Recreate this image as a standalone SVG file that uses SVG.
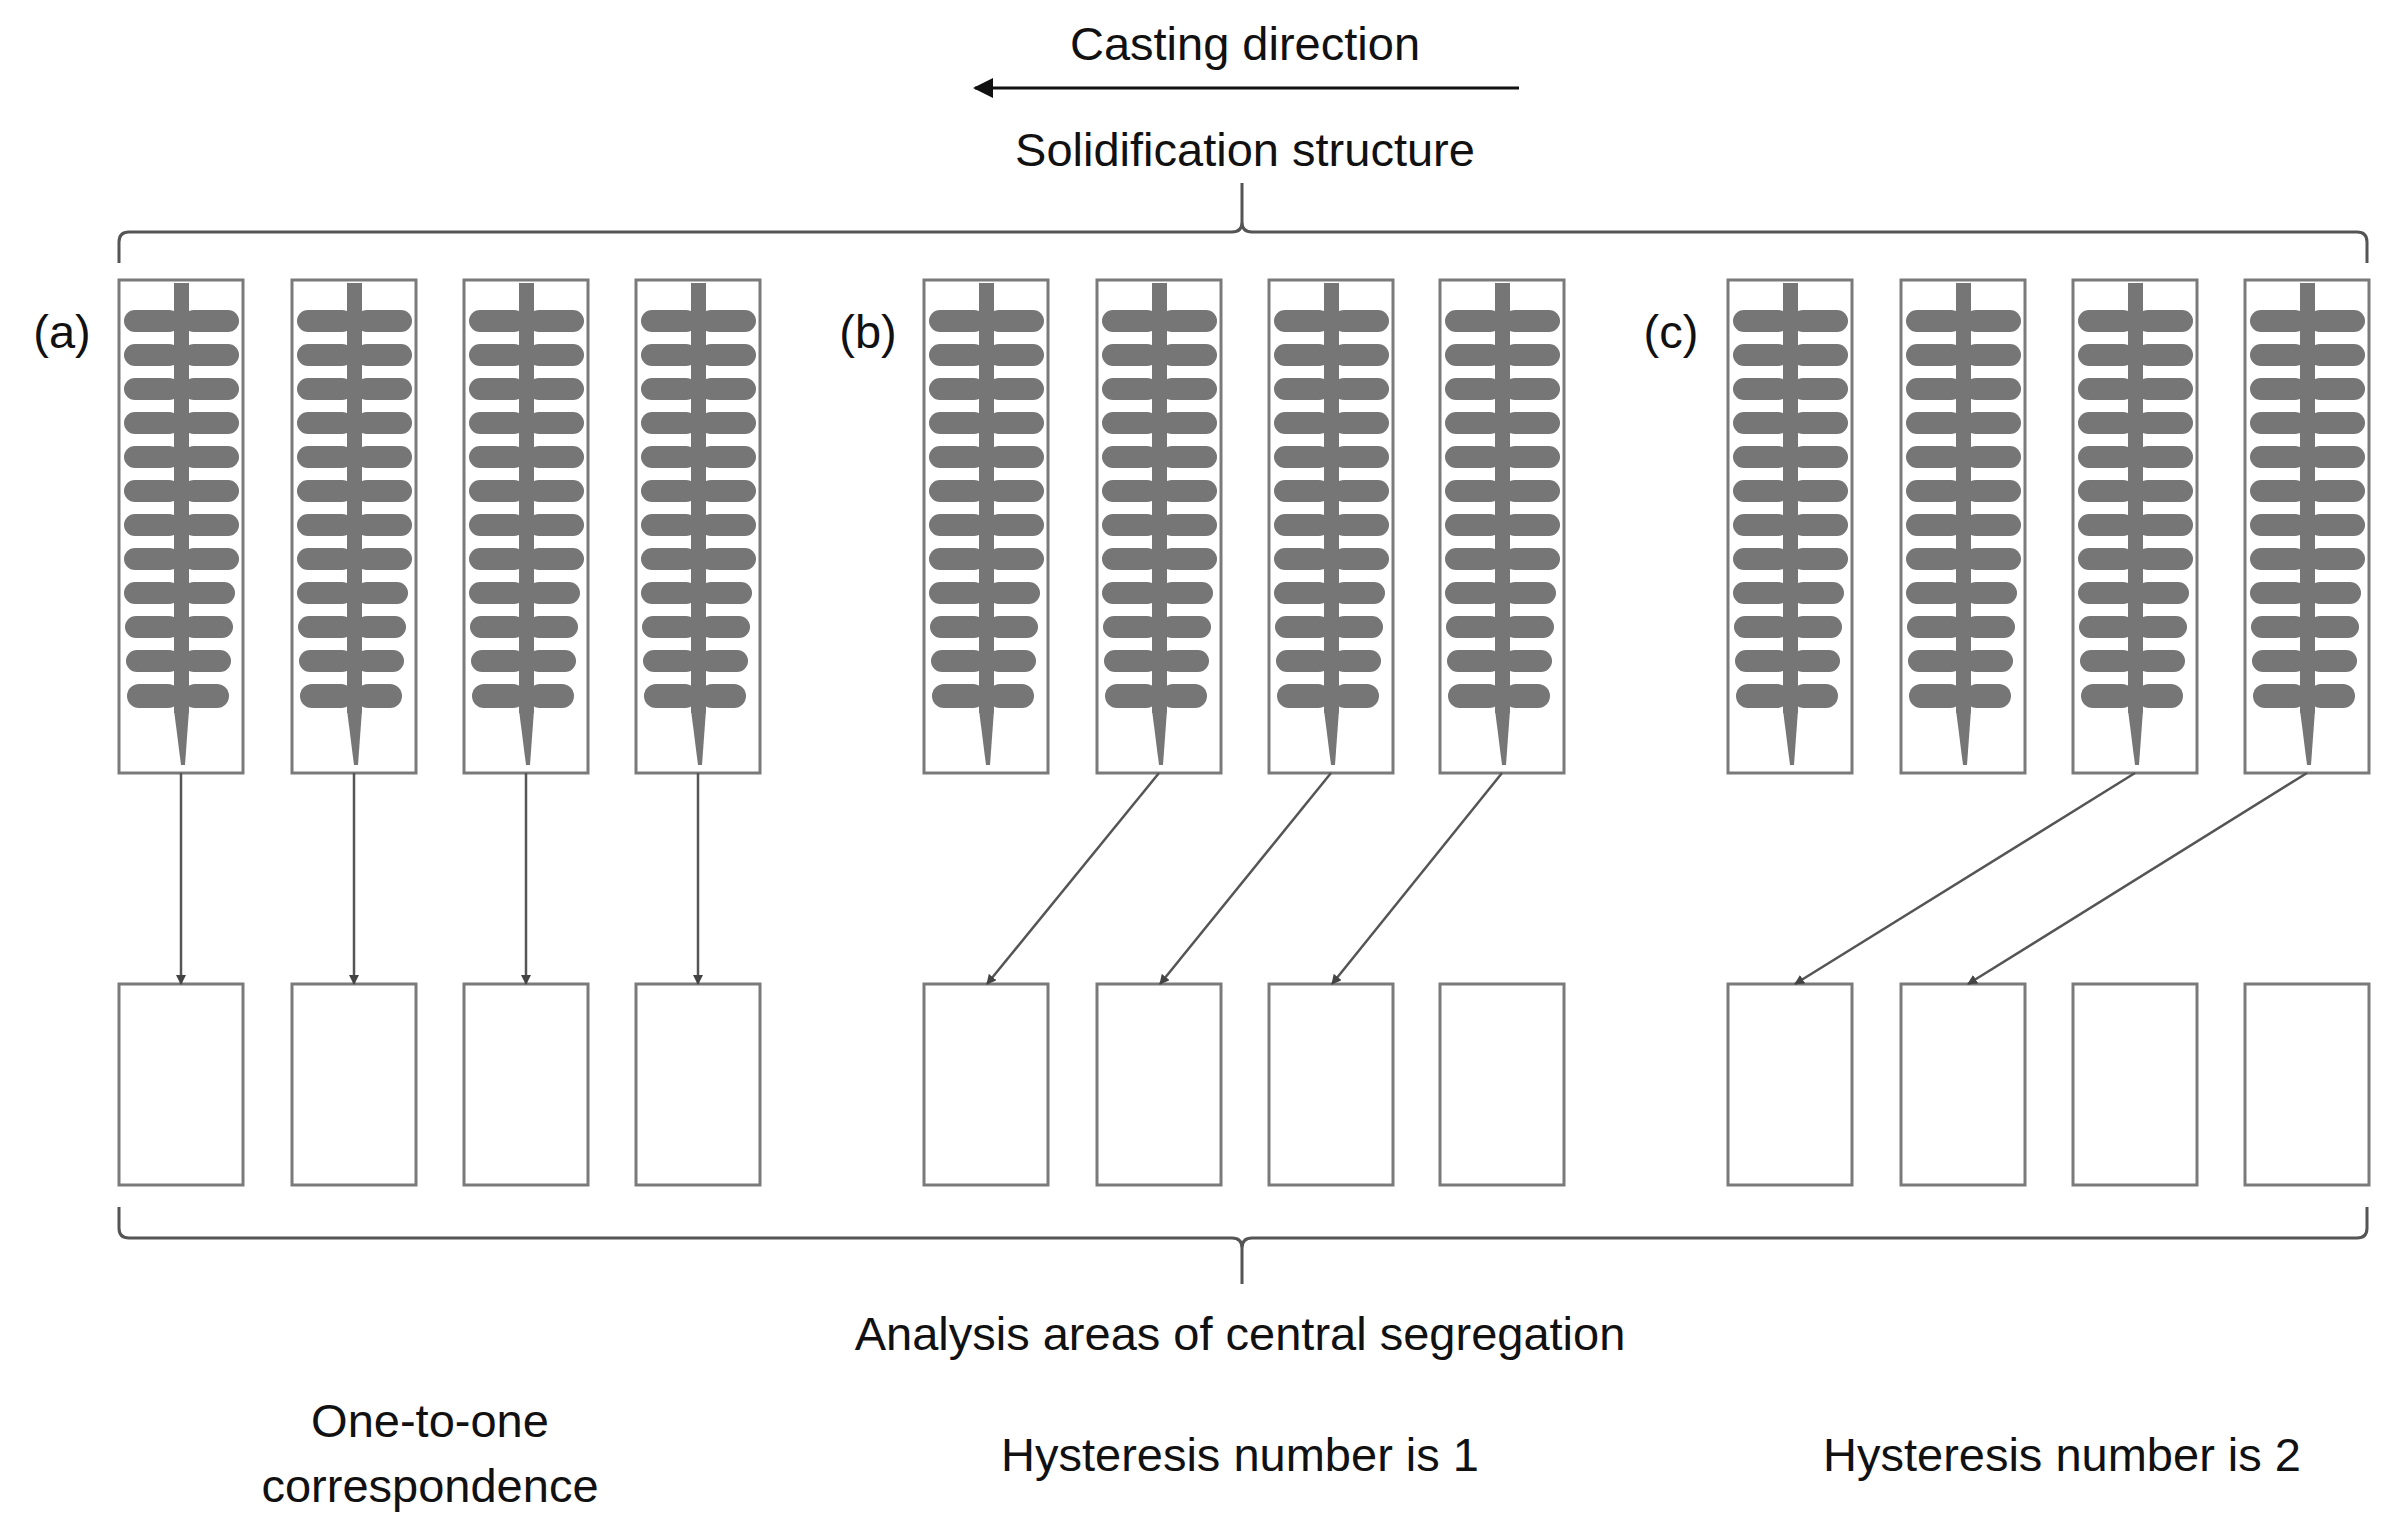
<svg xmlns="http://www.w3.org/2000/svg" width="2401" height="1525" viewBox="0 0 2401 1525">
<style>
.box{fill:#fff;stroke:#7a7a7a;stroke-width:3}
.br{fill:none;stroke:#555;stroke-width:3}
.con{fill:none;stroke:#555;stroke-width:2.5;marker-end:url(#ah)}
text{font-family:"Liberation Sans",Arial,sans-serif;font-size:47px;fill:#111;text-anchor:middle}
.d{fill:#767676}
</style>
<defs>
<marker id="ah" viewBox="0 0 10 10" refX="9" refY="5" markerWidth="10" markerHeight="10" markerUnits="userSpaceOnUse" orient="auto"><path d="M0,0L10,5L0,10z" fill="#444"/></marker>
<marker id="ah2" viewBox="0 0 10 10" refX="9" refY="5" markerWidth="24" markerHeight="20" markerUnits="userSpaceOnUse" orient="auto"><path d="M0,0L10,5L0,10z" fill="#111"/></marker>
<symbol id="den" overflow="visible">
<rect class="box" x="0" y="0" width="124" height="493"/>
<g class="d">
<rect x="55" y="3" width="15" height="430"/>
<path d="M55,430 L70,430 L66,485 L62,485 Z"/>
<rect x="5" y="30" width="56" height="22" rx="11"/><rect x="64" y="30" width="56" height="22" rx="11"/>
<rect x="5" y="64" width="56" height="22" rx="11"/><rect x="64" y="64" width="56" height="22" rx="11"/>
<rect x="5" y="98" width="56" height="22" rx="11"/><rect x="64" y="98" width="56" height="22" rx="11"/>
<rect x="5" y="132" width="56" height="22" rx="11"/><rect x="64" y="132" width="56" height="22" rx="11"/>
<rect x="5" y="166" width="56" height="22" rx="11"/><rect x="64" y="166" width="56" height="22" rx="11"/>
<rect x="5" y="200" width="56" height="22" rx="11"/><rect x="64" y="200" width="56" height="22" rx="11"/>
<rect x="5" y="234" width="56" height="22" rx="11"/><rect x="64" y="234" width="56" height="22" rx="11"/>
<rect x="5" y="268" width="56" height="22" rx="11"/><rect x="64" y="268" width="56" height="22" rx="11"/>
<rect x="5" y="302" width="56" height="22" rx="11"/><rect x="64" y="302" width="52" height="22" rx="11"/>
<rect x="6" y="336" width="55" height="22" rx="11"/><rect x="64" y="336" width="50" height="22" rx="11"/>
<rect x="7" y="370" width="54" height="22" rx="11"/><rect x="64" y="370" width="48" height="22" rx="11"/>
<rect x="8" y="404" width="53" height="24" rx="12"/><rect x="64" y="404" width="46" height="24" rx="12"/>
</g>
</symbol>
</defs>
<g id="header">
<text x="1245" y="60">Casting direction</text>
<line class="br" x1="1519" y1="88" x2="975" y2="88" style="stroke:#111;marker-end:url(#ah2)"/>
<text x="1245" y="166">Solidification structure</text>
<path class="br" d="M1242,183 V222 Q1242,232 1232,232 H129 Q119,232 119,242 V263 M1242,222 Q1242,232 1252,232 H2357 Q2367,232 2367,242 V263"/>
</g>
<g id="labels">
<text x="62" y="348">(a)</text>
<text x="868" y="348">(b)</text>
<text x="1671" y="348">(c)</text>
</g>
<g id="top-a"><use href="#den" x="119" y="280"/><use href="#den" x="292" y="280"/><use href="#den" x="464" y="280"/><use href="#den" x="636" y="280"/></g>
<g id="top-b"><use href="#den" x="924" y="280"/><use href="#den" x="1097" y="280"/><use href="#den" x="1269" y="280"/><use href="#den" x="1440" y="280"/></g>
<g id="top-c"><use href="#den" x="1728" y="280"/><use href="#den" x="1901" y="280"/><use href="#den" x="2073" y="280"/><use href="#den" x="2245" y="280"/></g>
<g id="bottom-a"><rect class="box" x="119" y="984" width="124" height="201"/><rect class="box" x="292" y="984" width="124" height="201"/><rect class="box" x="464" y="984" width="124" height="201"/><rect class="box" x="636" y="984" width="124" height="201"/></g>
<g id="bottom-b"><rect class="box" x="924" y="984" width="124" height="201"/><rect class="box" x="1097" y="984" width="124" height="201"/><rect class="box" x="1269" y="984" width="124" height="201"/><rect class="box" x="1440" y="984" width="124" height="201"/></g>
<g id="bottom-c"><rect class="box" x="1728" y="984" width="124" height="201"/><rect class="box" x="1901" y="984" width="124" height="201"/><rect class="box" x="2073" y="984" width="124" height="201"/><rect class="box" x="2245" y="984" width="124" height="201"/></g>
<g id="connectors">
<line class="con" x1="181" y1="773" x2="181" y2="984"/>
<line class="con" x1="354" y1="773" x2="354" y2="984"/>
<line class="con" x1="526" y1="773" x2="526" y2="984"/>
<line class="con" x1="698" y1="773" x2="698" y2="984"/>
<line class="con" x1="1159" y1="773" x2="987" y2="984"/>
<line class="con" x1="1331" y1="773" x2="1160" y2="984"/>
<line class="con" x1="1502" y1="773" x2="1332" y2="984"/>
<line class="con" x1="2135" y1="773" x2="1795" y2="984"/>
<line class="con" x1="2307" y1="773" x2="1968" y2="984"/>
</g>
<g id="footer">
<path class="br" d="M119,1207 V1228 Q119,1238 129,1238 H1232 Q1242,1238 1242,1248 V1284 M1242,1248 Q1242,1238 1252,1238 H2357 Q2367,1238 2367,1228 V1207"/>
<text x="1240" y="1350">Analysis areas of central segregation</text>
<text x="430" y="1437">One-to-one</text>
<text x="430" y="1502">correspondence</text>
<text x="1240" y="1471">Hysteresis number is 1</text>
<text x="2062" y="1471">Hysteresis number is 2</text>
</g>
</svg>
